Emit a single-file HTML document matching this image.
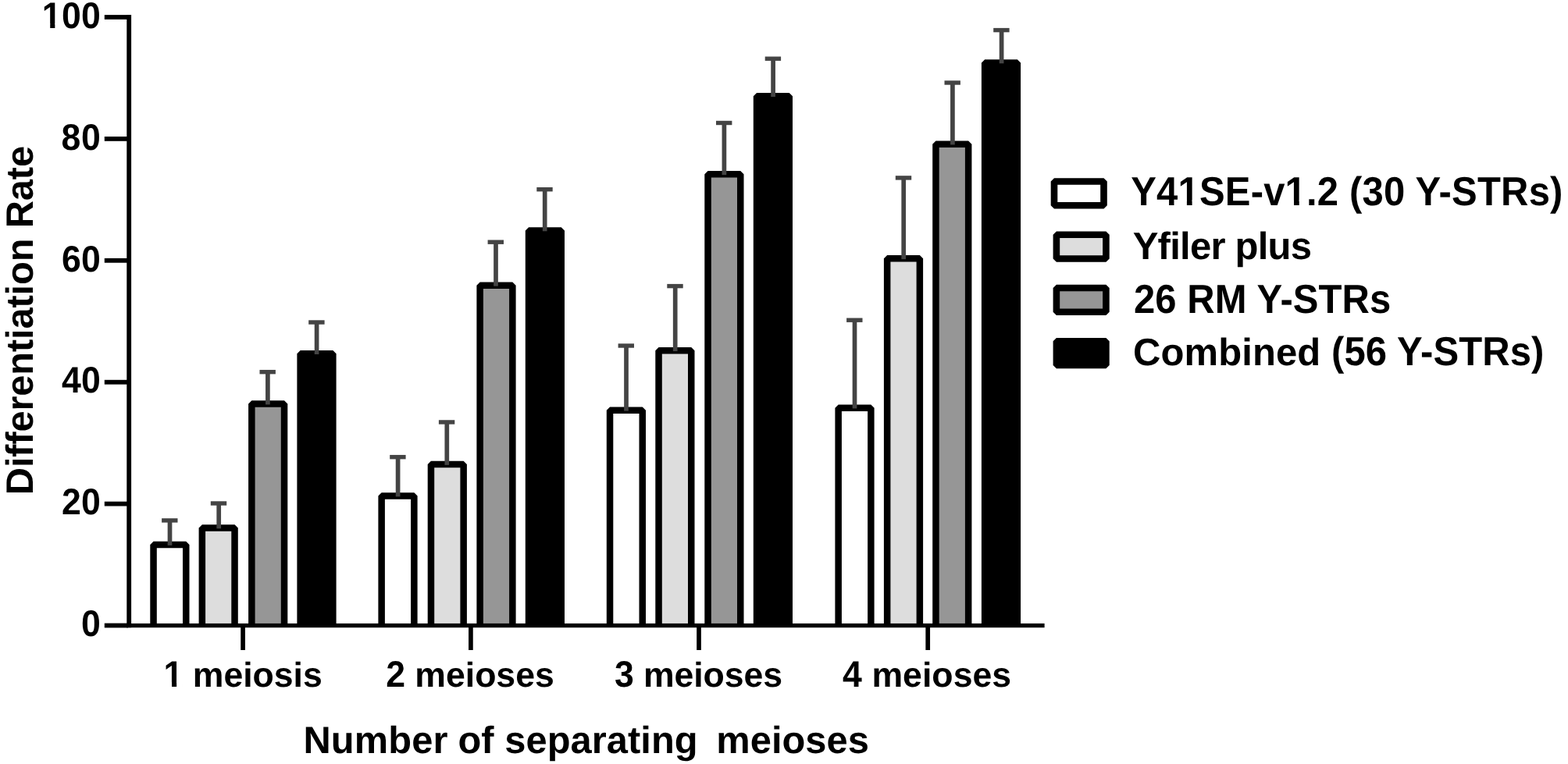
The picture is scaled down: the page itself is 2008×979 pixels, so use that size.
<!DOCTYPE html>
<html lang="en">
<head>
<meta charset="utf-8">
<title>Differentiation Rate by Number of separating meioses</title>
<style>
html,body{margin:0;padding:0;background:#ffffff;}
body{width:2008px;height:979px;overflow:hidden;}
#chart{position:relative;width:2008px;height:979px;overflow:hidden;background:#ffffff;}
#chart svg{position:absolute;left:0;top:0;display:block;}
.t{position:absolute;left:0;top:0;margin:0;padding:0;white-space:pre;font-family:"Liberation Sans",Arial,Helvetica,sans-serif;font-weight:bold;color:#000000;text-rendering:geometricPrecision;}
.tick{font-size:44.6px;line-height:44.6px;height:44.6px;transform-origin:0 36.254px;}
.title{font-size:48.8px;line-height:48.8px;height:48.8px;transform-origin:0 39.809px;}
.leg{font-size:49px;line-height:49px;height:49px;transform-origin:0 39.979px;}
.u{display:inline-block;transform:scaleY(1.06);transform-origin:inherit;}
.w{position:absolute;top:0;}
</style>
</head>
<body>
<div id="chart">
<svg width="2008" height="979" viewBox="0 0 2008 979">
<rect x="0" y="0" width="2008" height="979" fill="#ffffff"/>
<g stroke="#000000" stroke-width="8.50" stroke-linejoin="bevel" stroke-linecap="butt">
<path d="M196.55 801.50L196.55 698.05L238.25 698.05L238.25 801.50" fill="#ffffff"/>
<path d="M258.85 801.50L258.85 676.50L300.55 676.50L300.55 801.50" fill="#dddddd"/>
<path d="M322.35 801.50L322.35 517.60L364.05 517.60L364.05 801.50" fill="#969696"/>
<path d="M384.65 801.50L384.65 453.20L426.35 453.20L426.35 801.50" fill="#000000"/>
<path d="M488.65 801.50L488.65 635.55L530.35 635.55L530.35 801.50" fill="#ffffff"/>
<path d="M551.95 801.50L551.95 595.05L593.65 595.05L593.65 801.50" fill="#dddddd"/>
<path d="M614.65 801.50L614.65 365.85L656.35 365.85L656.35 801.50" fill="#969696"/>
<path d="M677.05 801.50L677.05 295.45L718.75 295.45L718.75 801.50" fill="#000000"/>
<path d="M781.05 801.50L781.05 525.75L822.75 525.75L822.75 801.50" fill="#ffffff"/>
<path d="M843.55 801.50L843.55 449.25L885.25 449.25L885.25 801.50" fill="#dddddd"/>
<path d="M906.55 801.50L906.55 223.35L948.25 223.35L948.25 801.50" fill="#969696"/>
<path d="M969.05 801.50L969.05 123.25L1010.75 123.25L1010.75 801.50" fill="#000000"/>
<path d="M1073.65 801.50L1073.65 522.65L1115.35 522.65L1115.35 801.50" fill="#ffffff"/>
<path d="M1136.15 801.50L1136.15 331.35L1177.85 331.35L1177.85 801.50" fill="#dddddd"/>
<path d="M1198.45 801.50L1198.45 184.65L1240.15 184.65L1240.15 801.50" fill="#969696"/>
<path d="M1261.15 801.50L1261.15 80.45L1302.85 80.45L1302.85 801.50" fill="#000000"/>
</g>
<g fill="#444444">
<rect x="214.65" y="666.90" width="5.7" height="31.95"/>
<rect x="207.10" y="664.20" width="20.4" height="5.4"/>
<rect x="277.35" y="645.00" width="5.7" height="32.30"/>
<rect x="269.80" y="642.30" width="20.4" height="5.4"/>
<rect x="340.05" y="476.65" width="5.7" height="41.75"/>
<rect x="332.50" y="473.95" width="20.4" height="5.4"/>
<rect x="402.75" y="413.00" width="5.7" height="41.00"/>
<rect x="395.20" y="410.30" width="20.4" height="5.4"/>
<rect x="506.75" y="585.65" width="5.7" height="50.70"/>
<rect x="499.20" y="582.95" width="20.4" height="5.4"/>
<rect x="569.45" y="540.95" width="5.7" height="54.90"/>
<rect x="561.90" y="538.25" width="20.4" height="5.4"/>
<rect x="632.15" y="310.20" width="5.7" height="56.45"/>
<rect x="624.60" y="307.50" width="20.4" height="5.4"/>
<rect x="694.85" y="242.70" width="5.7" height="53.55"/>
<rect x="687.30" y="240.00" width="20.4" height="5.4"/>
<rect x="799.15" y="443.00" width="5.7" height="83.55"/>
<rect x="791.60" y="440.30" width="20.4" height="5.4"/>
<rect x="861.85" y="366.60" width="5.7" height="83.45"/>
<rect x="854.30" y="363.90" width="20.4" height="5.4"/>
<rect x="924.55" y="157.50" width="5.7" height="66.65"/>
<rect x="917.00" y="154.80" width="20.4" height="5.4"/>
<rect x="987.25" y="75.20" width="5.7" height="48.85"/>
<rect x="979.70" y="72.50" width="20.4" height="5.4"/>
<rect x="1091.65" y="410.20" width="5.7" height="113.25"/>
<rect x="1084.10" y="407.50" width="20.4" height="5.4"/>
<rect x="1154.35" y="227.90" width="5.7" height="104.25"/>
<rect x="1146.80" y="225.20" width="20.4" height="5.4"/>
<rect x="1217.05" y="106.00" width="5.7" height="79.45"/>
<rect x="1209.50" y="103.30" width="20.4" height="5.4"/>
<rect x="1279.75" y="38.60" width="5.7" height="42.65"/>
<rect x="1272.20" y="35.90" width="20.4" height="5.4"/>
</g>
<g fill="#000000">
<rect x="162.3" y="19" width="5.8" height="785.2"/>
<rect x="162.3" y="798.9" width="1175.3" height="5.3"/>
<rect x="133.8" y="19.10" width="30" height="5.8"/>
<rect x="133.8" y="175.00" width="30" height="5.8"/>
<rect x="133.8" y="330.90" width="30" height="5.8"/>
<rect x="133.8" y="486.80" width="30" height="5.8"/>
<rect x="133.8" y="642.70" width="30" height="5.8"/>
<rect x="133.8" y="798.60" width="30" height="5.8"/>
<rect x="308.25" y="800" width="5.7" height="33"/>
<rect x="600.05" y="800" width="5.7" height="33"/>
<rect x="892.15" y="800" width="5.7" height="33"/>
<rect x="1185.35" y="800" width="5.7" height="33"/>
</g>
<g stroke="#000000" stroke-width="8.6" stroke-linejoin="bevel">
<rect x="1350.00" y="232.50" width="63.5" height="30.7" fill="#ffffff"/>
<rect x="1352.90" y="300.80" width="63.5" height="30.7" fill="#dddddd"/>
<rect x="1352.90" y="369.05" width="63.5" height="30.7" fill="#969696"/>
<rect x="1352.90" y="437.35" width="63.5" height="30.7" fill="#000000"/>
</g>
</svg>
<div id="yt0" class="t tick" style="transform:translate(53.82px,-0.25px) scaleY(1.06);letter-spacing:0.275px;clip-path:polygon(-20.00px -30.00px,3000.00px -30.00px,3000.00px 74.60px,24.31px 74.60px,24.31px 30.77px,16.53px 30.77px,16.53px 74.60px,10.41px 74.60px,10.41px 30.77px,2.01px 30.77px,2.01px 74.60px,-20.00px 74.60px);">100</div>
<div id="yt1" class="t tick" style="transform:translate(78.55px,155.75px) scaleY(1.06);letter-spacing:0.533px;">80</div>
<div id="yt2" class="t tick" style="transform:translate(79.08px,311.75px) scaleY(1.06);letter-spacing:0.000px;">60</div>
<div id="yt3" class="t tick" style="transform:translate(79.08px,466.75px) scaleY(1.06);letter-spacing:0.000px;">40</div>
<div id="yt4" class="t tick" style="transform:translate(79.08px,622.75px) scaleY(1.06);letter-spacing:0.000px;">20</div>
<div id="yt5" class="t tick" style="transform:translate(103.88px,778.75px) scaleY(1.06);letter-spacing:0.000px;">0</div>
<div id="xt0" class="t tick" style="transform:translate(209.61px,843.75px);letter-spacing:-0.018px;"><span class="u" style="clip-path:polygon(-20.00px -30.00px,3000.00px -30.00px,3000.00px 74.60px,24.31px 74.60px,24.31px 30.77px,16.53px 30.77px,16.53px 74.60px,10.41px 74.60px,10.41px 30.77px,2.01px 30.77px,2.01px 74.60px,-20.00px 74.60px);">1</span> meiosis</div>
<div id="xt1" class="t tick" style="transform:translate(494.17px,843.75px);letter-spacing:-0.018px;"><span class="u">2</span> meioses</div>
<div id="xt2" class="t tick" style="transform:translate(786.93px,843.75px);letter-spacing:-0.072px;"><span class="u">3</span> meioses</div>
<div id="xt3" class="t tick" style="transform:translate(1079.08px,843.75px);letter-spacing:0.049px;"><span class="u">4</span> meioses</div>
<div id="xtitle" class="t title" style="transform:translate(0px,925.19px)"><span class="w" style="left:388.46px;letter-spacing:0.135px">Number</span> <span class="w" style="left:586.44px;letter-spacing:0.067px">of separating</span>  <span class="w" style="left:917.25px;letter-spacing:0.054px">meioses</span></div>
<div id="ytitle" class="t title" style="transform-origin:0 0;transform:translate(2.19px,634.20px) rotate(-90deg);letter-spacing:-0.148px">Differentiation Rate</div>
<div id="lg0" class="t leg" style="transform:translate(1448.14px,223.02px) scaleY(1.06);letter-spacing:0.192px;clip-path:polygon(-20.00px -30.00px,3000.00px -30.00px,3000.00px 79.00px,224.16px 79.00px,224.16px 33.81px,215.61px 33.81px,215.61px 79.00px,208.89px 79.00px,208.89px 33.81px,199.66px 33.81px,199.66px 79.00px,87.02px 79.00px,87.02px 33.81px,78.47px 33.81px,78.47px 79.00px,71.75px 79.00px,71.75px 33.81px,62.52px 33.81px,62.52px 79.00px,-20.00px 79.00px);">Y41SE-v1.2 (30 Y-STRs)</div>
<div id="lg1" class="t leg" style="transform:translate(1450.64px,292.02px);letter-spacing:-0.747px;">Yfiler plus</div>
<div id="lg2" class="t leg" style="transform:translate(1452.01px,361.02px) scaleY(1.06);letter-spacing:0.058px;">26 RM Y-STRs</div>
<div id="lg3" class="t leg" style="transform:translate(1451.02px,428.02px);letter-spacing:0.094px;">Combined <span class="u">(56 Y-STRs)</span></div>
</div>
</body>
</html>
